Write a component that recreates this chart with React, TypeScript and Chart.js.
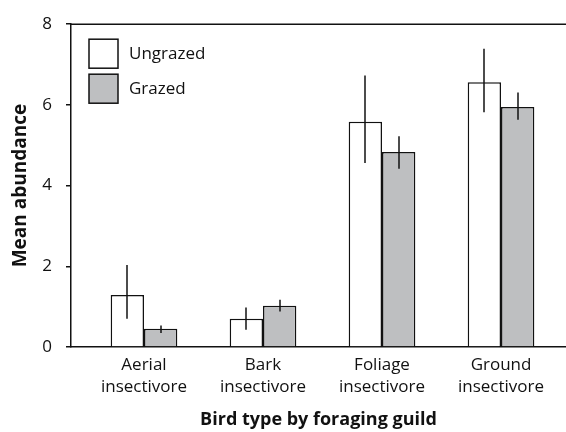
import React, { useEffect, useRef } from "react";
import { Chart, registerables } from "chart.js";

Chart.register(...registerables);

const categories: string[][] = [
  ["Aerial", "insectivore"],
  ["Bark", "insectivore"],
  ["Foliage", "insectivore"],
  ["Ground", "insectivore"],
];
const seriesNames = ["Ungrazed", "Grazed"];
const ungrazed = [1.29, 0.7, 5.58, 6.56];
const ungrazedLow = [0.7, 0.43, 4.56, 5.82];
const ungrazedHigh = [2.03, 0.98, 6.73, 7.39];
const grazed = [0.45, 1.02, 4.83, 5.95];
const grazedLow = [0.35, 0.88, 4.42, 5.63];
const grazedHigh = [0.53, 1.17, 5.22, 6.31];
const yTicks = [0, 2, 4, 6, 8];

const FONT = "'Open Sans', sans-serif";
const INK = "#111111";
const GREY = "#bebfc1";

const errLow = [ungrazedLow, grazedLow];
const errHigh = [ungrazedHigh, grazedHigh];

const extrasPlugin = {
  id: "extras",
  afterDatasetsDraw(chart: any) {
    const ctx = chart.ctx;
    const y = chart.scales.y;
    ctx.save();
    ctx.strokeStyle = INK;
    ctx.lineWidth = 1.5;
    chart.data.datasets.forEach((_: any, di: number) => {
      const meta = chart.getDatasetMeta(di);
      meta.data.forEach((el: any, j: number) => {
        const x = Math.round(el.x);
        ctx.beginPath();
        ctx.moveTo(x, y.getPixelForValue(errLow[di][j]));
        ctx.lineTo(x, y.getPixelForValue(errHigh[di][j]));
        ctx.stroke();
      });
    });
    ctx.restore();
  },
  afterDraw(chart: any) {
    const ctx = chart.ctx;
    const area = chart.chartArea;
    ctx.save();
    ctx.strokeStyle = INK;
    ctx.lineWidth = 1.5;
    ctx.beginPath();
    ctx.moveTo(area.left, area.top);
    ctx.lineTo(area.right, area.top);
    ctx.stroke();
    // legend
    const bx = area.left + 18;
    const by = area.top + 15;
    chart.data.datasets.forEach((ds: any, i: number) => {
      const top = by + i * 35;
      ctx.fillStyle = ds.backgroundColor;
      ctx.fillRect(bx, top, 29, 29);
      ctx.strokeStyle = INK;
      ctx.lineWidth = 1.5;
      ctx.strokeRect(bx, top, 29, 29);
      ctx.fillStyle = INK;
      ctx.font = `17px ${FONT}`;
      ctx.textBaseline = "middle";
      ctx.textAlign = "left";
      ctx.fillText(ds.label, bx + 40, top + 14.5);
    });
    ctx.restore();
  },
};

export default function App() {
  const ref = useRef<HTMLCanvasElement | null>(null);
  useEffect(() => {
    if (!ref.current) return;
    const toPts = (arr: number[]) => arr.map((v, i) => ({ x: i + 1, y: v }));
    const chart = new Chart(ref.current, {
      type: "bar",
      data: {
        datasets: [
          {
            label: seriesNames[0],
            data: toPts(ungrazed) as any,
            backgroundColor: "#ffffff",
            borderColor: INK,
            borderWidth: 1.5,
          },
          {
            label: seriesNames[1],
            data: toPts(grazed) as any,
            backgroundColor: GREY,
            borderColor: INK,
            borderWidth: 1.5,
          },
        ],
      },
      options: {
        responsive: false,
        animation: false,
        events: [],
        layout: { padding: { top: 22, right: 0, left: 0, bottom: 0 } },
        datasets: { bar: { categoryPercentage: 0.56, barPercentage: 1 } },
        plugins: { legend: { display: false }, tooltip: { enabled: false } },
        scales: {
          x: {
            type: "linear",
            min: 0.3866,
            max: 4.546,
            offset: false,
            afterFit: (s: any) => {
              s.height = 85;
            },
            grid: { display: false, drawTicks: false },
            border: { display: true, color: INK, width: 1.5 },
            ticks: {
              stepSize: 1,
              includeBounds: false,
              autoSkip: false,
              maxRotation: 0,
              padding: 8,
              color: INK,
              font: { family: FONT, size: 17, lineHeight: 1.25 },
              callback: (v: any) =>
                Number.isInteger(v) && v >= 1 && v <= categories.length
                  ? categories[v - 1]
                  : "",
            },
            title: {
              display: true,
              text: "Bird type by foraging guild",
              color: INK,
              font: { family: FONT, size: 18, weight: "bold" },
              padding: { top: 0, bottom: 1 },
            },
          },
          y: {
            min: 0,
            max: 8,
            afterFit: (s: any) => {
              s.width = 71;
            },
            afterBuildTicks: (s: any) => {
              s.ticks = yTicks.map((v) => ({ value: v }));
            },
            grid: {
              drawOnChartArea: false,
              drawTicks: true,
              tickLength: 5,
              color: INK,
              lineWidth: 1.5,
            },
            border: { display: true, color: INK, width: 1.5 },
            ticks: {
              padding: 14,
              color: INK,
              font: { family: FONT, size: 17 },
            },
            title: {
              display: true,
              text: "Mean abundance",
              color: INK,
              font: { family: FONT, size: 19, weight: "bold" },
              padding: { top: 9, bottom: 0 },
            },
          },
        },
      },
      plugins: [extrasPlugin],
    });
    return () => chart.destroy();
  }, []);
  return (
    <div
      style={{
        position: "absolute",
        left: 0,
        top: 0,
        width: 566,
        height: 432,
        overflow: "hidden",
        background: "#fff",
      }}
    >
      <canvas ref={ref} width={566} height={432} style={{ display: "block" }} />
    </div>
  );
}
